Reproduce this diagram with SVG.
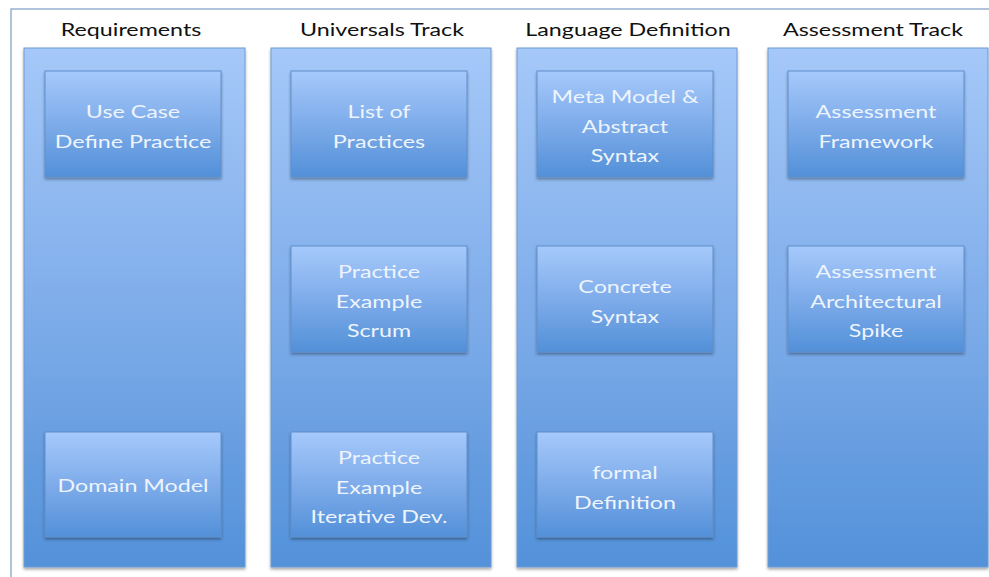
<svg xmlns="http://www.w3.org/2000/svg" width="989" height="577" viewBox="0 0 989 577">
  <defs>
    <linearGradient id="colFill" x1="0" y1="0" x2="0" y2="1">
      <stop offset="0" stop-color="#a5c8f8"/>
      <stop offset="0.5" stop-color="#7fadea"/>
      <stop offset="1" stop-color="#5391d9"/>
    </linearGradient>
    <linearGradient id="boxFill" x1="0" y1="0" x2="0" y2="1">
      <stop offset="0" stop-color="#a6c9fb"/>
      <stop offset="0.55" stop-color="#7aa9e8"/>
      <stop offset="1" stop-color="#5290d8"/>
    </linearGradient>
    <filter id="shadow" x="-10%" y="-10%" width="125%" height="130%">
      <feGaussianBlur in="SourceAlpha" stdDeviation="1.5"/>
      <feOffset dx="0" dy="2" result="b"/>
      <feComponentTransfer><feFuncA type="linear" slope="0.35"/></feComponentTransfer>
      <feMerge><feMergeNode/><feMergeNode in="SourceGraphic"/></feMerge>
    </filter>
  </defs>
  <style>
    .frame { fill: #ffffff; stroke: #7d9cc4; stroke-width: 1.2; }
    .col { fill: url(#colFill); stroke: #6f9bd2; stroke-width: 1; filter: url(#shadow); }
    .box { fill: url(#boxFill); stroke: #5f8fcb; stroke-width: 1; filter: url(#shadow); }
    .title { font-family: Lato, "Liberation Sans", sans-serif; font-size: 17.5px; fill: #111111; text-anchor: middle; }
    .label { font-family: Lato, "Liberation Sans", sans-serif; font-size: 17.5px; fill: #eef4fd; text-anchor: middle; }
  </style>

  <!-- outer frame -->
  <rect class="frame" x="11" y="9" width="990" height="580"/>

  <!-- column: Requirements -->
  <g id="col-requirements">
    <rect class="col" x="24" y="48" width="221" height="519"/>
    <text class="title" transform="translate(131 0) scale(1.33 1)"><tspan x="0" y="36">Requirements</tspan></text>
  </g>
  <g id="use-case">
    <rect class="box" x="45" y="71" width="176" height="106"/>
    <text class="label" transform="translate(133 0) scale(1.33 1)"><tspan x="0" y="118.5">Use Case</tspan><tspan x="0" y="148.5">Define Practice</tspan></text>
  </g>
  <g id="domain-model">
    <rect class="box" x="45" y="432" width="176" height="105"/>
    <text class="label" transform="translate(133 0) scale(1.33 1)"><tspan x="0" y="492">Domain Model</tspan></text>
  </g>

  <!-- column: Universals Track -->
  <g id="col-universals">
    <rect class="col" x="271" y="48" width="220" height="519"/>
    <text class="title" transform="translate(382 0) scale(1.33 1)"><tspan x="0" y="36">Universals Track</tspan></text>
  </g>
  <g id="list-of-practices">
    <rect class="box" x="291" y="71" width="176" height="106"/>
    <text class="label" transform="translate(379 0) scale(1.33 1)"><tspan x="0" y="118.5">List of</tspan><tspan x="0" y="148.5">Practices</tspan></text>
  </g>
  <g id="practice-scrum">
    <rect class="box" x="291" y="246" width="176" height="106"/>
    <text class="label" transform="translate(379 0) scale(1.33 1)"><tspan x="0" y="278">Practice</tspan><tspan x="0" y="308">Example</tspan><tspan x="0" y="337">Scrum</tspan></text>
  </g>
  <g id="practice-iterative">
    <rect class="box" x="291" y="432" width="176" height="105"/>
    <text class="label" transform="translate(379 0) scale(1.33 1)"><tspan x="0" y="464">Practice</tspan><tspan x="0" y="494">Example</tspan><tspan x="0" y="523">Iterative Dev.</tspan></text>
  </g>

  <!-- column: Language Definition -->
  <g id="col-language">
    <rect class="col" x="517" y="48" width="220" height="519"/>
    <text class="title" transform="translate(628 0) scale(1.33 1)"><tspan x="0" y="36">Language Definition</tspan></text>
  </g>
  <g id="meta-model">
    <rect class="box" x="537" y="71" width="176" height="106"/>
    <text class="label" transform="translate(625 0) scale(1.33 1)"><tspan x="0" y="103">Meta Model &amp;</tspan><tspan x="0" y="133">Abstract</tspan><tspan x="0" y="162">Syntax</tspan></text>
  </g>
  <g id="concrete-syntax">
    <rect class="box" x="537" y="246" width="176" height="106"/>
    <text class="label" transform="translate(625 0) scale(1.33 1)"><tspan x="0" y="293.5">Concrete</tspan><tspan x="0" y="323.5">Syntax</tspan></text>
  </g>
  <g id="formal-definition">
    <rect class="box" x="537" y="432" width="176" height="105"/>
    <text class="label" transform="translate(625 0) scale(1.33 1)"><tspan x="0" y="479.5">formal</tspan><tspan x="0" y="509.5">Definition</tspan></text>
  </g>

  <!-- column: Assessment Track -->
  <g id="col-assessment">
    <rect class="col" x="768" y="48" width="220" height="519"/>
    <text class="title" transform="translate(873 0) scale(1.33 1)"><tspan x="0" y="36">Assessment Track</tspan></text>
  </g>
  <g id="assessment-framework">
    <rect class="box" x="788" y="71" width="176" height="106"/>
    <text class="label" transform="translate(876 0) scale(1.33 1)"><tspan x="0" y="118.5">Assessment</tspan><tspan x="0" y="148.5">Framework</tspan></text>
  </g>
  <g id="assessment-spike">
    <rect class="box" x="788" y="246" width="176" height="106"/>
    <text class="label" transform="translate(876 0) scale(1.33 1)"><tspan x="0" y="278">Assessment</tspan><tspan x="0" y="308">Architectural</tspan><tspan x="0" y="337">Spike</tspan></text>
  </g>

  <!-- no connectors in this diagram -->
  <g id="connectors"/>
</svg>
